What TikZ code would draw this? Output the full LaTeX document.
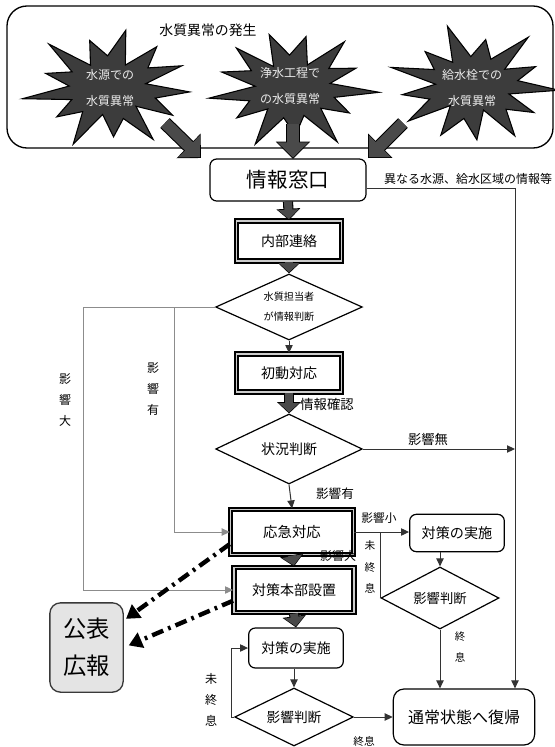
\documentclass[tikz,border=0pt]{standalone}
\usepackage{fontspec}
\setmainfont{Noto Sans CJK JP}
\usetikzlibrary{shapes.geometric,arrows.meta,calc}
\definecolor{stargray}{HTML}{3C3C3C}
\definecolor{arrgray}{HTML}{4A4A4A}
\definecolor{linegray}{HTML}{8C8C8C}
\definecolor{boxgray}{HTML}{E4E4E4}
\newcommand\drawstar[3]{%
  \filldraw[fill=stargray, draw=black, line width=0.8pt]
    plot[samples at={0,...,25}, variable=\k]
    ({#1+(78-36*mod(\k,2))*(1+0.14*sin(\k*97+#3))*cos(\k*360/26+4)},
     {#2+(55-26*mod(\k,2))*(1+0.14*sin(\k*97+#3))*sin(\k*360/26+4)}) -- cycle;}
\begin{document}
\begin{tikzpicture}[x=0.75pt,y=-0.75pt,
  txt/.style={inner sep=0pt},
  fs/.style={font=\fontsize{#1}{#1}\selectfont},
  startext/.style={inner sep=0pt, align=center, text=gray!15, font=\fontsize{9}{19}\selectfont},
  plainbox/.style={draw, rounded corners=5pt, line width=0.9pt, fill=white, align=center, inner sep=1pt},
  dblbox/.style={draw, line width=1.4pt, double=gray!40, double distance=1.1pt, fill=white, align=center, inner sep=1pt},
  dia/.style={diamond, aspect=2.2, draw, line width=0.9pt, inner sep=0pt, align=center, fill=white},
  ln/.style={line width=0.75pt, draw=black!80},
  arr/.style={ln, -{Triangle[width=5.5pt,length=6pt]}},
  gln/.style={line width=0.75pt, draw=linegray},
  garr/.style={gln, -{Triangle[width=5.5pt,length=6pt]}},
  fat/.style={draw=arrgray, line width=6pt, shorten >=0.8pt, -{Triangle[width=15pt,length=7pt]},
    preaction={draw=black, line width=7.6pt, shorten >=0pt, -{Triangle[width=17.5pt,length=8.5pt]}}},
  bigfat/.style={draw=arrgray, line width=8.6pt, shorten >=1pt, -{Triangle[width=22.5pt,length=11.5pt]},
    preaction={draw=black, line width=10.2pt, shorten >=0pt, -{Triangle[width=25pt,length=13pt]}}},
  dd/.style={line width=3.3pt, dash pattern=on 9pt off 4pt on 2pt off 4pt, -{Triangle[width=12pt,length=10pt]}},
  vlab/.style={inner sep=0pt, align=center, font=\fontsize{#1}{16}\selectfont},
]
\useasboundingbox (0,0) rectangle (555,747);

% source box
\draw[line width=1pt, rounded corners=15pt] (7,6) rectangle (553,148);
\node[txt, fs=10.4] (title) at (208,30) {水質異常の発生};

% stars
\drawstar{110}{88}{10}
\drawstar{292}{88}{60}
\drawstar{473}{86}{130}
\node[startext] (s1) at (110,88) {水源での\\水質異常};
\node[startext] (s2) at (290,86) {浄水工程で\\の水質異常};
\node[startext] (s3) at (472,88) {給水栓での\\水質異常};

% big arrows
\coordinate (a1s) at (165,123); \coordinate (a1e) at (201,158);
\coordinate (a2s) at (293,124); \coordinate (a2e) at (293,159);
\coordinate (a3s) at (403,123); \coordinate (a3e) at (368,158);
\draw[bigfat] (a1s) -- (a1e);
\draw[bigfat] (a2s) -- (a2e);
\draw[bigfat] (a3s) -- (a3e);

% main column
\node[plainbox, minimum width=117pt, minimum height=31.5pt, fs=15.4] (info) at (288,180) {情報窓口};
\node[dblbox, minimum width=78.75pt, minimum height=30pt, fs=10.5] (naibu) at (289,241) {内部連絡};
\node[dia, minimum width=110pt, minimum height=49.5pt, font=\fontsize{7.6}{15}\selectfont] (d1) at (289,307) {水質担当者\\が情報判断};
\node[dblbox, minimum width=78.75pt, minimum height=28.5pt, fs=10.5] (shodo) at (289,373) {初動対応};
\node[dia, minimum width=110pt, minimum height=52.5pt, fs=10.5] (d2) at (289,449) {状況判断};
\node[dblbox, minimum width=92pt, minimum height=34pt, fs=10.8] (oukyu) at (292,532) {応急対応};
\node[plainbox, minimum width=71pt, minimum height=28pt, fs=10.6] (taiR) at (457,533) {対策の実施};
\node[dia, minimum width=88.5pt, minimum height=46.5pt, fs=10] (dR) at (440,598) {影響判断};
\node[dblbox, minimum width=90pt, minimum height=34pt, fs=10.5] (honbu) at (294,590) {対策本部設置};
\node[plainbox, minimum width=71pt, minimum height=30pt, fs=10.4] (jisL) at (296,648) {対策の実施};
\node[dia, minimum width=89pt, minimum height=43.5pt, fs=10.3] (dL) at (294,717) {影響判断};
\node[plainbox, rounded corners=8pt, minimum width=106pt, minimum height=42pt, fs=12] (tsujo) at (464,717) {通常状態へ復帰};
\node[draw=gray!45!black, fill=boxgray, line width=1pt, rounded corners=8pt, minimum width=55pt, minimum height=67pt,
      align=center, inner sep=0pt, font=\fontsize{17.5}{28}\selectfont] (kohyo) at (86.5,647.5) {公表\\広報};

% helper coordinates
\coordinate (rline) at (515,188);
\coordinate (l1) at (83,0);
\coordinate (l2) at (174,0);

% right information line
\node[txt, fs=9] (lblinfo) at (468,179) {異なる水源、給水区域の情報等};
\draw[ln] ($(info.east)+(0,8)$) -- (rline);
\draw[arr] (rline) -- (rline |- tsujo.north);

% fat connectors
\draw[fat] (info.south) -- (naibu.north);
\draw[fat] (naibu.south) -- (d1.north);
\draw[fat] (shodo.south) -- (d2.north);
\draw[fat] (oukyu.south) -- (honbu.north);
\draw[fat] (honbu.south) -- (jisL.north);

% thin connectors
\draw[arr] (d1.south) -- (shodo.north);
\draw[arr] (d2.south) -- (oukyu.north);
\draw[arr] (d2.east) -- (d2.east -| rline);
\draw[arr] (oukyu.east) -- (oukyu.east -| taiR.west);
\draw[ln] (dR.west) -- (dR.west |- oukyu.east);
\draw[arr] (dR.north |- taiR.south) -- (dR.north);
\draw[arr] (dR.south) -- (dR.south |- tsujo.north);
\draw[arr] (dL.north |- jisL.south) -- (dL.north);
\draw[arr] (dL.west) -- ++(-3,0) |- (jisL.west);
\draw[arr] (dL.east) -- (dL.east -| tsujo.west);

% left gray lines
\draw[garr] (d1.west) -- (d1.west -| l1) |- (honbu.west);
\draw[garr] (d1.west -| l2) |- (oukyu.west);

% dash-dot arrows to publication
\draw[dd, shorten >=2pt] (oukyu.191) -- (kohyo.36);
\draw[dd, shorten >=4pt] (honbu.190) -- (kohyo.east);

% labels
\node[txt, fs=10] (lkakunin) at (327,404) {情報確認};
\node[txt, fs=10] (lmu) at (428,439) {影響無};
\node[txt, fs=9.5] (lyu) at (335,494) {影響有};
\node[txt, fs=8.8] (lsho) at (379,518) {影響小};
\node[txt, fs=9] (ldai) at (338,556) {影響大};
\node[txt, fs=8] (lshuL) at (364,741) {終息};
\node[vlab=9] (vdai) at (65,400) {影\\響\\大};
\node[vlab=9] (vyu) at (153,389) {影\\響\\有};
\node[vlab=8] (vmiR) at (370,567) {未\\終\\息};
\node[vlab=7.8] (vshuR) at (460,647) {終\\息};
\node[vlab=9] (vmiL) at (211,700) {未\\終\\息};
\end{tikzpicture}
\end{document}
